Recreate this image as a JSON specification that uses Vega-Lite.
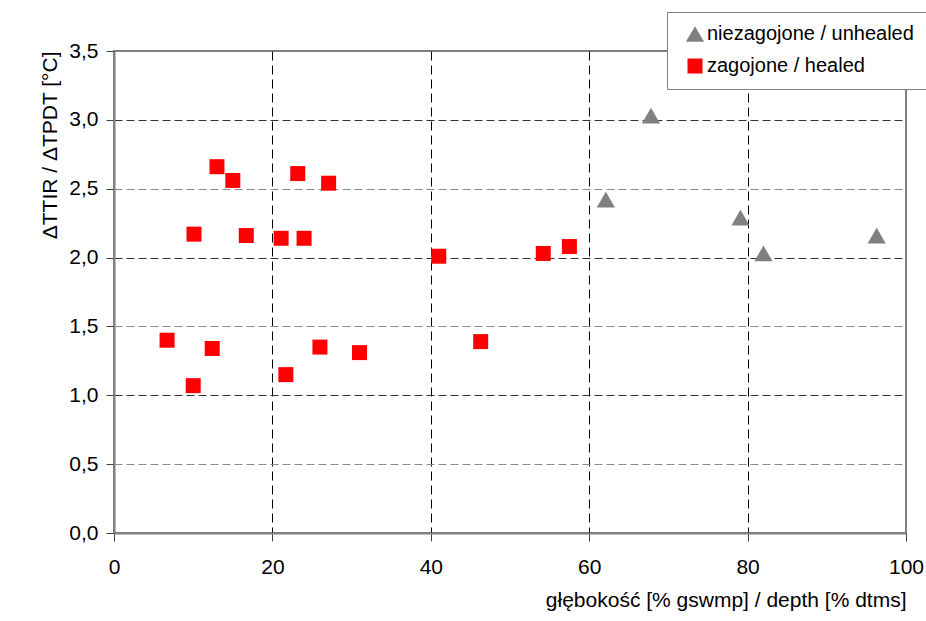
{
  "$schema": "https://vega.github.io/schema/vega-lite/v6.json",
  "width": 792,
  "height": 482,
  "autosize": {"type": "none"},
  "padding": {"left": 114, "top": 51, "right": 20, "bottom": 88},
  "background": "white",
  "config": {
    "font": "Liberation Sans",
    "view": {"stroke": "#808080", "strokeWidth": 2}
  },
  "data": {
    "values": [
      {"depth": 6.7, "dT": 1.40, "group": "zagojone / healed"},
      {"depth": 10.0, "dT": 1.07, "group": "zagojone / healed"},
      {"depth": 10.1, "dT": 2.17, "group": "zagojone / healed"},
      {"depth": 12.4, "dT": 1.34, "group": "zagojone / healed"},
      {"depth": 13.0, "dT": 2.66, "group": "zagojone / healed"},
      {"depth": 15.0, "dT": 2.56, "group": "zagojone / healed"},
      {"depth": 16.7, "dT": 2.16, "group": "zagojone / healed"},
      {"depth": 21.1, "dT": 2.14, "group": "zagojone / healed"},
      {"depth": 21.7, "dT": 1.15, "group": "zagojone / healed"},
      {"depth": 23.2, "dT": 2.61, "group": "zagojone / healed"},
      {"depth": 24.0, "dT": 2.14, "group": "zagojone / healed"},
      {"depth": 26.0, "dT": 1.35, "group": "zagojone / healed"},
      {"depth": 27.1, "dT": 2.54, "group": "zagojone / healed"},
      {"depth": 31.0, "dT": 1.31, "group": "zagojone / healed"},
      {"depth": 41.0, "dT": 2.01, "group": "zagojone / healed"},
      {"depth": 46.3, "dT": 1.39, "group": "zagojone / healed"},
      {"depth": 54.2, "dT": 2.03, "group": "zagojone / healed"},
      {"depth": 57.5, "dT": 2.08, "group": "zagojone / healed"},
      {"depth": 62.1, "dT": 2.42, "group": "niezagojone / unhealed"},
      {"depth": 67.8, "dT": 3.03, "group": "niezagojone / unhealed"},
      {"depth": 79.1, "dT": 2.29, "group": "niezagojone / unhealed"},
      {"depth": 82.0, "dT": 2.03, "group": "niezagojone / unhealed"},
      {"depth": 96.3, "dT": 2.16, "group": "niezagojone / unhealed"}
    ]
  },
  "mark": {"type": "point", "filled": true, "opacity": 1},
  "encoding": {
    "x": {
      "field": "depth",
      "type": "quantitative",
      "scale": {"domain": [0, 100], "nice": false},
      "axis": {
        "values": [0, 20, 40, 60, 80, 100],
        "labelFontSize": 21,
        "labelColor": "#000",
        "labelFlush": false,
        "labelPadding": 15,
        "tickSize": 8,
        "tickColor": "#404040",
        "domainColor": "#808080",
        "domainWidth": 2,
        "grid": true,
        "gridColor": {"condition": {"test": "datum.value === 0 || datum.value === 100", "value": "transparent"}, "value": "#000"},
        "gridDash": [9, 5],
        "gridWidth": 1,
        "title": "głębokość [% gswmp] / depth [% dtms]",
        "titleFontSize": 21,
        "titleFontWeight": "normal",
        "titleColor": "#000",
        "titleAnchor": "end",
        "titlePadding": 12
      }
    },
    "y": {
      "field": "dT",
      "type": "quantitative",
      "scale": {"domain": [0, 3.5], "nice": false},
      "axis": {
        "values": [0, 0.5, 1, 1.5, 2, 2.5, 3, 3.5],
        "labelExpr": "replace(format(datum.value, '.1f'), '.', ',')",
        "labelFontSize": 21,
        "labelColor": "#000",
        "labelFlush": false,
        "labelPadding": 8,
        "tickSize": 8,
        "tickColor": "#404040",
        "domainColor": "#808080",
        "domainWidth": 2,
        "grid": true,
        "gridColor": {"condition": [{"test": "datum.value === 0 || datum.value === 3.5", "value": "transparent"}, {"test": "datum.value % 1 === 0", "value": "#333333"}], "value": "#8a8a8a"},
        "gridDash": [8, 4],
        "gridWidth": 1,
        "title": "ΔTTIR / ΔTPDT [°C]",
        "titleFontSize": 21,
        "titleFontWeight": "normal",
        "titleColor": "#000",
        "titleAnchor": "end",
        "titlePadding": 8
      }
    },
    "color": {
      "field": "group",
      "type": "nominal",
      "scale": {"domain": ["niezagojone / unhealed", "zagojone / healed"], "range": ["#808080", "#FF0000"]},
      "legend": {
        "title": null,
        "orient": "none",
        "legendX": 553,
        "legendY": -39,
        "strokeColor": "#808080",
        "fillColor": "white",
        "padding": 12,
        "symbolOffset": 6,
        "symbolSize": 190,
        "symbolOpacity": 1,
        "labelFontSize": 20,
        "labelColor": "#000",
        "labelOffset": 2,
        "labelLimit": 300,
        "rowPadding": 10
      }
    },
    "shape": {
      "field": "group",
      "type": "nominal",
      "scale": {"domain": ["niezagojone / unhealed", "zagojone / healed"], "range": ["triangle-up", "square"]}
    },
    "size": {
      "field": "group",
      "type": "nominal",
      "scale": {"domain": ["niezagojone / unhealed", "zagojone / healed"], "range": [330, 225]},
      "legend": null
    }
  }
}
